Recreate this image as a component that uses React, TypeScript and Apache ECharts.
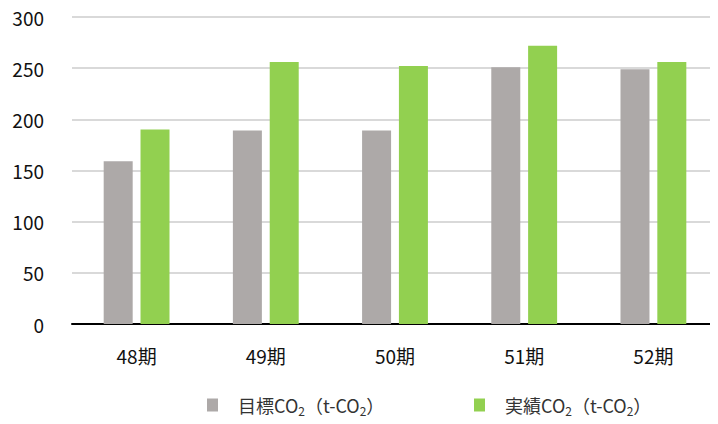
import React, { useEffect, useRef } from "react";
import * as echarts from "echarts";

const categories = ["48期", "49期", "50期", "51期", "52期"];
const targetValues = [159, 189, 189, 251, 249];
const actualValues = [190, 256, 252, 272, 256];
const targetName = "目標CO2（t-CO2）";
const actualName = "実績CO2（t-CO2）";
const yTicks = { min: 0, max: 300, interval: 50 };

const richFor = (prefix: string) =>
  `{g| }{a|${prefix}CO}{s|2}{a|（t-CO}{s|2}{a|）}`;

export default function App() {
  const ref = useRef<HTMLDivElement>(null);
  useEffect(() => {
    if (!ref.current) return;
    const chart = echarts.init(ref.current, null, { renderer: "svg" });
    const font = "'Noto Sans CJK JP', 'Noto Sans', sans-serif";
    const rich = {
      g: { width: 15, fontSize: 18, lineHeight: 24 },
      a: { fontSize: 18, color: "#333", fontFamily: font, lineHeight: 24, verticalAlign: "middle" },
      s: {
        fontSize: 12,
        color: "#333",
        fontFamily: font,
        lineHeight: 14,
        verticalAlign: "bottom",
      },
    };
    const legendBase = {
      orient: "horizontal",
      top: 396,
      padding: 0,
      icon: "rect",
      itemWidth: 11,
      itemHeight: 13,
      selectedMode: false,
      textStyle: { rich },
    };
    chart.setOption({
      animation: false,
      textStyle: { fontFamily: font },
      grid: { left: 72, right: 0, top: 17, bottom: 100, containLabel: false },
      legend: [
        {
          ...legendBase,
          left: 207,
          data: [targetName],
          formatter: () => richFor("目標"),
        },
        {
          ...legendBase,
          left: 474,
          data: [actualName],
          formatter: () => richFor("実績"),
        },
      ],
      xAxis: {
        type: "category",
        data: categories,
        axisLine: { show: true, lineStyle: { color: "#000", width: 2 } },
        axisTick: { show: false },
        axisLabel: { color: "#111", fontSize: 19, margin: 22, fontFamily: font },
      },
      yAxis: {
        type: "value",
        min: yTicks.min,
        max: yTicks.max,
        interval: yTicks.interval,
        axisLine: { show: false },
        axisTick: { show: false },
        axisLabel: { color: "#111", fontSize: 19, margin: 28, fontFamily: font },
        splitLine: { lineStyle: { color: "#d9d9d9", width: 2 } },
      },
      series: [
        {
          name: targetName,
          type: "bar",
          data: targetValues,
          barWidth: 29,
          barGap: "27%",
          itemStyle: { color: "#ADA9A8" },
        },
        {
          name: actualName,
          type: "bar",
          data: actualValues,
          barWidth: 29,
          barGap: "27%",
          itemStyle: { color: "#92D050" },
        },
      ],
    });
    return () => chart.dispose();
  }, []);
  return <div ref={ref} style={{ width: 718, height: 424, margin: -8 }} />;
}
